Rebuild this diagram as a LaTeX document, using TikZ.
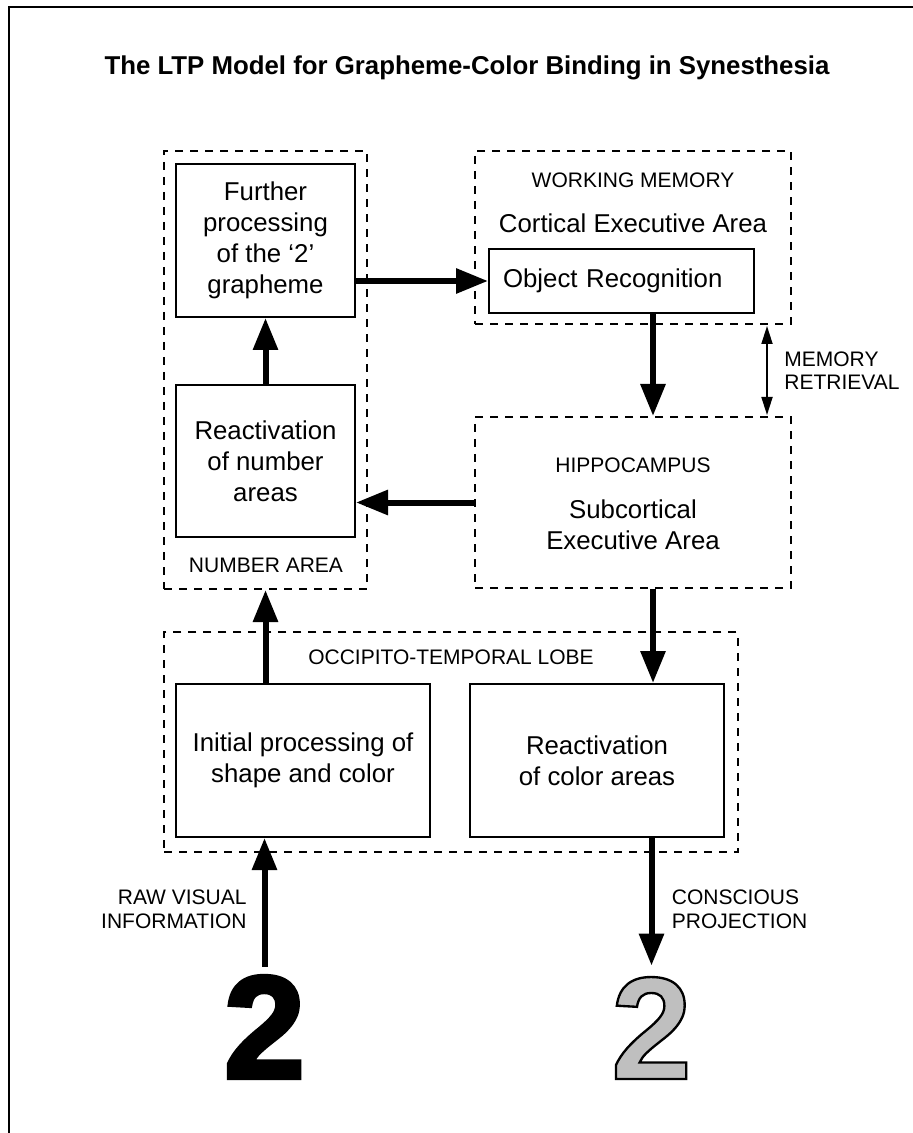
\documentclass[tikz,border=0pt]{standalone}
\usepackage{fontspec}
\setmainfont{Liberation Sans}
\newfontface\heavydigit{Liberation Sans Bold}[FakeBold=3]
\newfontface\outlinedigit{Liberation Sans Bold}[FakeBold=1.6]
\usepackage{xcolor}
\usepackage{tikz}
\usetikzlibrary{arrows.meta,positioning,calc}
\newcommand{\bodyfont}{\fontsize{12.9}{15.5}\selectfont}
\newcommand{\capsfont}{\fontsize{10.5}{11.8}\selectfont}
\newcommand{\bigdigit}{\fontsize{73}{73}\selectfont}
\tikzstyle{box} = [rectangle, draw, line width=1pt, align=center, font=\bodyfont, minimum width=89.5pt, minimum height=76.5pt]
\tikzstyle{area} = [rectangle, draw, line width=1pt, dash pattern=on 4pt off 3.5pt, inner sep=0pt]
\tikzstyle{caps} = [font=\capsfont, inner sep=0pt, align=center]
\tikzstyle{thickarrow} = [-{Triangle[length=16pt,width=12pt]}, line width=3pt]
\tikzstyle{thinarrow} = [{Triangle[length=9pt,width=5.5pt]}-{Triangle[length=9pt,width=5.5pt]}, line width=0.9pt]

\begin{document}
\begin{tikzpicture}[x=0.5pt, y=-0.5pt]
    \useasboundingbox (0,0) rectangle (913,1133);
    % Frame
    \draw[line width=1pt] (913,7) -- (9,7) -- (9,1133);
    % Title
    \node[font=\bodyfont\bfseries] (title) at (467,68) {The LTP Model for Grapheme-Color Binding in Synesthesia};

    % Areas
    \node[area, minimum width=101.5pt, minimum height=219pt] (numarea) at (265.5,370) {};
    \node[area, minimum width=158pt, minimum height=86.5pt] (wm) at (633,237.5) {};
    \node[area, minimum width=158pt, minimum height=85.5pt] (hippo) at (633,502.5) {};
    \node[area, minimum width=286.75pt, minimum height=110pt] (otl) at (451,742) {};

    % Area labels
    \node[caps] (numlabel) at (266,565) {NUMBER AREA};
    \node[caps] (wmlabel) at (633,180.5) {WORKING MEMORY};
    \node[font=\bodyfont, inner sep=0pt] (cortical) at (633,223) {Cortical Executive Area};
    \node[caps] (hippolabel) at (633,465) {HIPPOCAMPUS};
    \node[font=\bodyfont, inner sep=0pt, align=center] (subcortical) at (633,524.5) {Subcortical\\Executive Area};
    \node[caps] (otllabel) at (451,657) {OCCIPITO-TEMPORAL LOBE};

    % Boxes
    \node[box] (further) at (265.5,240.5) {Further\\processing\\of the ‘2’\\grapheme};
    \node[box, minimum height=76pt] (reactnum) at (265.5,461) {Reactivation\\of number\\areas};
    \node[box, minimum width=132.5pt, minimum height=32pt, text width=118.5pt, inner xsep=7pt, align=left] (objrec) at (621.5,281) {Object Recognition};
    \node[box, minimum width=127pt] (initial) at (303,760.5) {Initial processing of\\shape and color};
    \node[box, minimum width=127pt] (reactcol) at (597,760.5) {Reactivation\\of color areas};

    % Graphemes
    \node[inner sep=4.5pt, font=\bigdigit\heavydigit] (rawdigit) at (264.5,1027) {2};
    \node[inner sep=5.5pt, font=\bigdigit\outlinedigit] (consdigit) at (651.5,1028) {\color{black!25}\special{pdf:literal direct 0 G}2};

    % Side labels
    \node[caps, anchor=west, align=left] (memlabel) at (784,370.5) {MEMORY\\RETRIEVAL};
    \node[caps, anchor=east, align=right] (rawlabel) at (247,909) {RAW VISUAL\\INFORMATION};
    \node[caps, anchor=west, align=left] (conslabel) at (671.5,909) {CONSCIOUS\\PROJECTION};

    % Arrows
    \coordinate (mrtop) at (767,326);
    \coordinate (mrbot) at (767,415);
    \coordinate (vline) at (653,0);
    \draw[thickarrow] (objrec.west -| further.east) -- (objrec.west);
    \draw[thickarrow] (reactnum.north) -- (further.south);
    \draw[thickarrow] (objrec.south -| vline) -- (hippo.north -| vline);
    \draw[thinarrow] (mrtop) -- (mrbot);
    \draw[thickarrow] (hippo.west) -- (hippo.west -| reactnum.east);
    \draw[thickarrow] (numarea.south |- initial.north) -- (numarea.south);
    \draw[thickarrow] (hippo.south -| vline) -- (reactcol.north -| vline);
    \draw[thickarrow] (rawdigit.north) -- (rawdigit.north |- initial.south);
    \draw[thickarrow] (reactcol.south -| consdigit.north) -- (consdigit.north);
\end{tikzpicture}
\end{document}
